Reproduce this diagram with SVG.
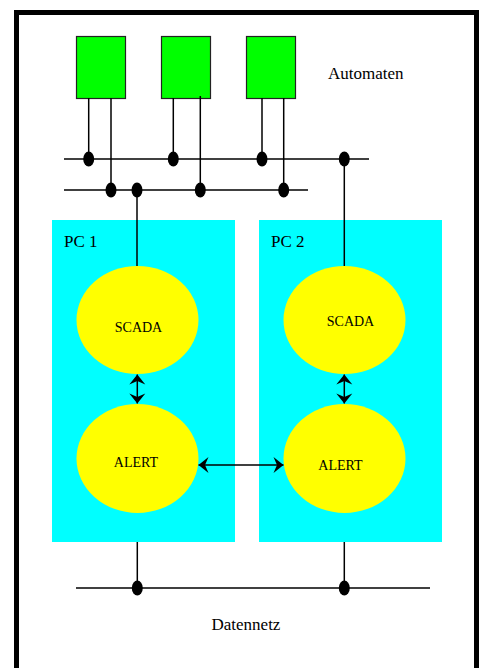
<svg xmlns="http://www.w3.org/2000/svg" width="482" height="668" viewBox="0 0 482 668">
<style>
.frame{fill:#fff;stroke:#000;stroke-width:5}
.auto{fill:#00ff00;stroke:#222;stroke-width:1.2}
.pc{fill:#00ffff}
.proc{fill:#ffff00}
.ln{stroke:#000;stroke-width:1.5;fill:none}
.dot{fill:#000}
.lbl{font-family:"Liberation Serif","Times New Roman",serif;font-size:17px;fill:#000}
.sm{font-family:"Liberation Serif","Times New Roman",serif;font-size:14px;fill:#000;text-anchor:middle}
</style>
<defs>
<marker id="ah" markerUnits="userSpaceOnUse" viewBox="-11 -9 12 18" markerWidth="12" markerHeight="18" refX="0" refY="0" orient="auto-start-reverse">
<path d="M0,0 L-10,-8 L-6.5,0 L-10,8 Z" fill="#000"/>
</marker>
</defs>
<rect class="frame" x="16.5" y="12.5" width="460" height="670"/>
<g id="automat1"><rect class="auto" x="76.5" y="36.5" width="49" height="62"/></g>
<g id="automat2"><rect class="auto" x="161.5" y="36.5" width="49" height="62"/></g>
<g id="automat3"><rect class="auto" x="246.5" y="36.5" width="49" height="62"/></g>
<g id="label-automaten"><text class="lbl" x="328" y="79">Automaten</text></g>
<g id="pc1">
<rect class="pc" x="52" y="220" width="183" height="322"/>
<text class="lbl" x="64" y="247">PC 1</text>
</g>
<g id="pc2">
<rect class="pc" x="259" y="220" width="183" height="322"/>
<text class="lbl" x="271" y="247">PC 2</text>
</g>
<g id="scada1"><ellipse class="proc" cx="137.5" cy="320" rx="61" ry="54"/><text class="sm" x="138.5" y="331.5">SCADA</text></g>
<g id="scada2"><ellipse class="proc" cx="344.5" cy="320" rx="61" ry="54"/><text class="sm" x="350.5" y="326">SCADA</text></g>
<g id="alert1"><ellipse class="proc" cx="137.5" cy="458.5" rx="61" ry="54.5"/><text class="sm" x="136" y="466.5">ALERT</text></g>
<g id="alert2"><ellipse class="proc" cx="344.5" cy="458.5" rx="61" ry="54.5"/><text class="sm" x="340.5" y="470">ALERT</text></g>
<g id="label-datennetz"><text class="lbl" x="211.5" y="630">Datennetz</text></g>
<g id="connectors">
<line class="ln" x1="64" y1="159" x2="369" y2="159"/>
<line class="ln" x1="64" y1="190" x2="308" y2="190"/>
<line class="ln" x1="88.7" y1="98" x2="88.7" y2="159"/>
<line class="ln" x1="111" y1="98" x2="111" y2="190"/>
<line class="ln" x1="173.3" y1="98" x2="173.3" y2="159"/>
<line class="ln" x1="200.3" y1="96" x2="200.3" y2="190"/>
<line class="ln" x1="262" y1="98" x2="262" y2="159"/>
<line class="ln" x1="283.7" y1="98" x2="283.7" y2="190"/>
<line class="ln" x1="137" y1="190" x2="137" y2="266"/>
<line class="ln" x1="344.3" y1="159" x2="344.3" y2="266"/>
<ellipse class="dot" cx="88.7" cy="159" rx="5.5" ry="7.5"/>
<ellipse class="dot" cx="173.3" cy="159" rx="5.5" ry="7.5"/>
<ellipse class="dot" cx="262" cy="159" rx="5.5" ry="7.5"/>
<ellipse class="dot" cx="344.3" cy="159" rx="5.5" ry="7.5"/>
<ellipse class="dot" cx="111" cy="190" rx="5.5" ry="7.5"/>
<ellipse class="dot" cx="137" cy="190" rx="5.5" ry="7.5"/>
<ellipse class="dot" cx="200.3" cy="190" rx="5.5" ry="7.5"/>
<ellipse class="dot" cx="283.7" cy="190" rx="5.5" ry="7.5"/>
<line class="ln" x1="137.3" y1="374.5" x2="137.3" y2="403.5" marker-start="url(#ah)" marker-end="url(#ah)"/>
<line class="ln" x1="344.3" y1="374.5" x2="344.3" y2="403.5" marker-start="url(#ah)" marker-end="url(#ah)"/>
<line class="ln" x1="198.5" y1="465" x2="283.5" y2="465" marker-start="url(#ah)" marker-end="url(#ah)"/>
<line class="ln" x1="76" y1="588" x2="430" y2="588"/>
<line class="ln" x1="137.3" y1="542" x2="137.3" y2="588"/>
<line class="ln" x1="344.3" y1="542" x2="344.3" y2="588"/>
<ellipse class="dot" cx="137.3" cy="588" rx="5.5" ry="7.5"/>
<ellipse class="dot" cx="344.3" cy="588" rx="5.5" ry="7.5"/>
</g>
</svg>
